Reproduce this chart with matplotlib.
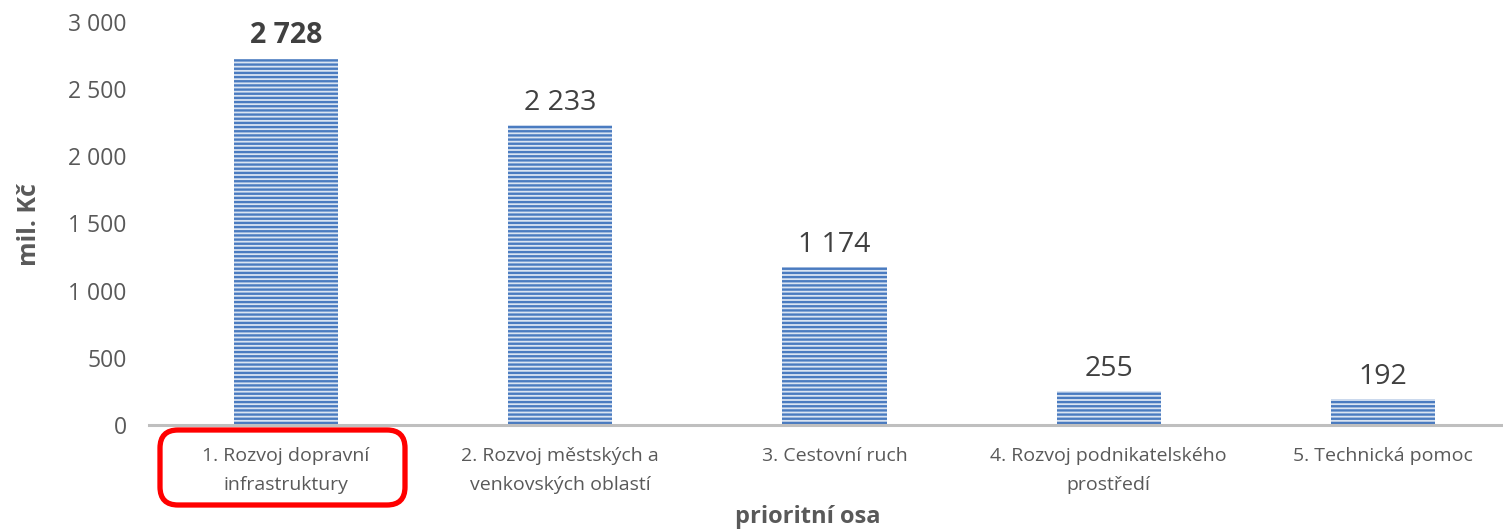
import matplotlib
matplotlib.use("Agg")
import matplotlib.pyplot as plt
from matplotlib.patches import FancyBboxPatch

categories = ["1. Rozvoj dopravní\ninfrastruktury",
              "2. Rozvoj městských a\nvenkovských oblastí",
              "3. Cestovní ruch",
              "4. Rozvoj podnikatelského\nprostředí",
              "5. Technická pomoc"]
values = [2728, 2233, 1174, 255, 192]
value_labels = ["2 728", "2 233", "1 174", "255", "192"]
yticks = [0, 500, 1000, 1500, 2000, 2500, 3000]
ytick_labels = ["0", "500", "1 000", "1 500", "2 000", "2 500", "3 000"]

plt.rcParams['font.family'] = ['Open Sans', 'DejaVu Sans']
plt.rcParams['hatch.linewidth'] = 1.7
plt.rcParams['hatch.color'] = '#4A7BC0'

W, H = 1503, 531
fig = plt.figure(figsize=(W / 100, H / 100), dpi=100)
ax = fig.add_axes([149 / W, (H - 425) / H, (1520 - 149) / W, 403 / H])

x = list(range(len(values)))
ax.bar(x, values, width=0.38, color='#DAE4F2', edgecolor='#4A7BC0',
       linewidth=0, hatch='----', zorder=2)

for xi, v, lab, i in zip(x, values, value_labels, range(len(values))):
    ax.text(xi, v + 60, lab, ha='center', va='bottom', fontsize=20.5,
            color='#404040', fontweight='bold' if i == 0 else 'normal')

ax.set_xlim(-0.5, 4.5)
ax.set_ylim(0, 3000)
ax.set_yticks(yticks)
ax.set_yticklabels(ytick_labels, fontsize=16.5, color='#595959')
ax.set_xticks(x)
ax.set_xticklabels(categories, fontsize=14, color='#595959', va='top',
                   linespacing=1.75)
ax.tick_params(axis='both', length=0)
ax.tick_params(axis='y', pad=16)
ax.tick_params(axis='x', pad=16)
for s in ['top', 'right', 'left']:
    ax.spines[s].set_visible(False)
ax.spines['bottom'].set_color('#BFBFBF')
ax.spines['bottom'].set_linewidth(2.2)

fig.text(30 / W, 1 - 225 / H, "mil. Kč", rotation=90, ha='center', va='center',
         fontsize=18, fontweight='bold', color='#595959')
fig.text(808 / W, 1 - 517 / H, "prioritní osa", ha='center', va='center',
         fontsize=17, fontweight='bold', color='#595959')

box = FancyBboxPatch((160 / W, 1 - 505 / H), (405 - 160) / W, (505 - 430) / H,
                     boxstyle="round,pad=0,rounding_size=0.012",
                     transform=fig.transFigure, fill=False,
                     edgecolor='#FF0000', linewidth=3.8, zorder=5,
                     mutation_aspect=W / H)
fig.patches.append(box)

fig.savefig("out.png", dpi=100)
